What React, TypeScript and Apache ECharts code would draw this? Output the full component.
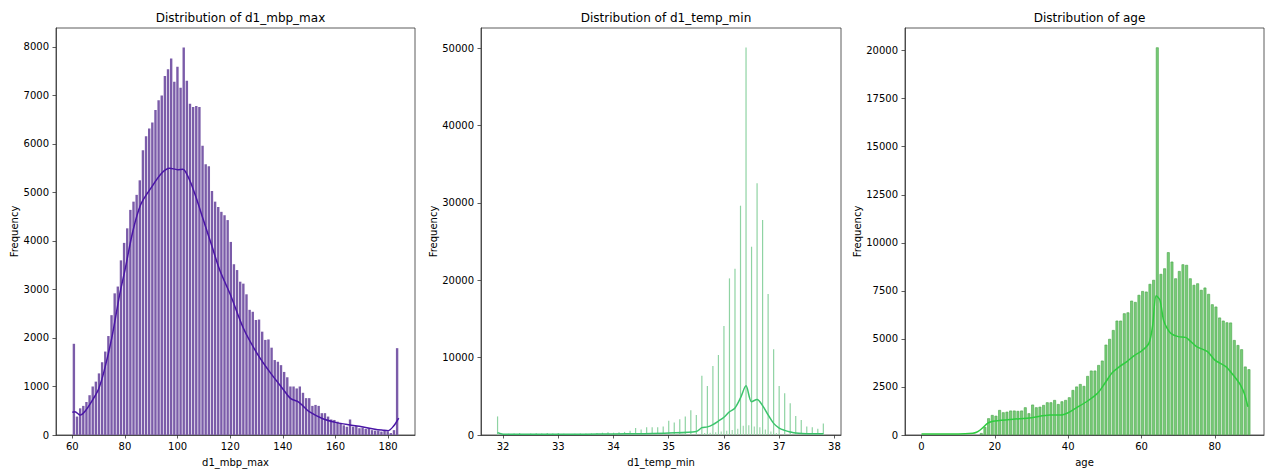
import React, { useEffect, useRef } from "react";
import * as echarts from "echarts";

// ---------- Panel 1: d1_mbp_max ----------
const mbpBinStart = 60;
const mbpBinEnd = 184;
const mbpCounts = [
  1880, 380, 550, 600, 680, 820, 1000, 1100, 1270, 1500,
  1720, 2040, 2470, 2920, 3060, 3600, 3960, 4260, 4640, 4810,
  4950, 5250, 5870, 6160, 6320, 6440, 6700, 6900, 7000, 7400,
  7540, 7760, 7280, 7590, 7160, 7990, 7300, 6830, 6760, 6780,
  6760, 5960, 5580, 5540, 5030, 4810, 4700, 4600, 4530, 4430,
  3980, 3520, 3400, 3160, 3120, 2900, 2580, 2540, 2370, 2380,
  2130, 1960, 1970, 1800, 1545, 1510, 1440, 1300, 1190, 1000,
  1000, 960, 1000, 870, 760, 760, 600, 620, 600, 450,
  450, 380, 320, 310, 275, 250, 200, 170, 320, 170,
  185, 140, 150, 125, 140, 100, 90, 90, 70, 85,
  75, 40, 100, 1790,
];
const mbpKdeX = [60, 61, 63, 65, 68, 70, 72, 75, 78, 80, 83, 86, 90, 94, 97, 100, 102, 103, 105, 107, 110, 113, 116, 120, 125, 130, 135, 140, 143, 146, 148, 150, 155, 160, 165, 170, 175, 178, 180, 182, 184];
const mbpKdeY = [470, 480, 410, 500, 750, 950, 1300, 2000, 2900, 3400, 4200, 4750, 5100, 5400, 5500, 5470, 5480, 5430, 5200, 4900, 4400, 3900, 3400, 2900, 2200, 1700, 1300, 950, 750, 680, 580, 480, 340, 260, 210, 170, 120, 100, 90, 180, 350];
const mbpTicksX = [60, 80, 100, 120, 140, 160, 180];
const mbpTicksY = [0, 1000, 2000, 3000, 4000, 5000, 6000, 7000, 8000];

// ---------- Panel 2: d1_temp_min ----------
const tempStart = 31.9;
const tempStep = 0.1;
const tempCounts = [
  2400, 100, 150, 200, 250, 120, 200, 220, 200, 250,
  200, 250, 150, 120, 150, 200, 180, 200, 250, 300,
  350, 300, 350, 400, 550, 900, 700, 1000, 1000, 1000,
  1100, 1850, 1600, 2050, 2400, 3200, 2600, 7660, 6330, 8910,
  10340, 14080, 20240, 21490, 29630, 50090, 24330, 32520, 27780, 18220,
  11070, 6330, 5380, 4090, 2450, 1940, 1100, 1000, 800, 1500,
];
const tempFineX = [35.65, 35.75, 35.85, 35.95, 36.05, 36.15, 36.25, 36.35, 36.45, 36.55, 36.65, 36.75, 36.85, 36.95];
const tempFineY = [250, 300, 350, 450, 550, 650, 800, 1200, 1250, 1100, 1000, 700, 450, 250];
const tempKdeX = [31.9, 32.0, 32.5, 33.0, 33.5, 34.0, 34.5, 35.0, 35.5, 35.6, 35.7, 35.8, 35.9, 36.0, 36.1, 36.2, 36.3, 36.4, 36.5, 36.6, 36.7, 36.8, 36.9, 37.0, 37.1, 37.2, 37.3, 37.5, 37.8];
const tempKdeY = [300, 100, 100, 100, 110, 130, 170, 250, 450, 950, 1050, 1350, 1800, 2300, 3000, 3500, 4800, 6350, 4300, 4600, 3800, 2600, 1500, 900, 600, 400, 250, 150, 150];
const tempTicksX = [32, 33, 34, 35, 36, 37, 38];
const tempTicksY = [0, 10000, 20000, 30000, 40000, 50000];

// ---------- Panel 3: age ----------
const ageStart = 16;
const ageCounts = [
  100, 420, 870, 1040, 1000, 1300, 1180, 1210, 1270, 1270,
  1250, 1270, 1440, 1130, 1580, 1440, 1470, 1560, 1700, 1700,
  1820, 1610, 1750, 1820, 1960, 2340, 2520, 2650, 2550, 3070,
  3350, 3350, 3640, 3870, 4700, 5000, 5460, 5950, 5950, 6330,
  6380, 6990, 6920, 7290, 7490, 7460, 7860, 8070, 20170, 8380,
  8670, 9510, 9020, 8150, 8530, 8880, 8850, 8150, 7810, 7890,
  7550, 7670, 7340, 6800, 6680, 6110, 5950, 5860, 5850, 4940,
  4680, 4460, 3560, 3420,
];
const ageKdeX = [0, 10, 14, 15, 16, 17, 18, 19, 20, 25, 30, 35, 38, 40, 42, 45, 48, 50, 52, 54, 56, 58, 60, 62, 63, 64, 65, 66, 67, 68, 70, 72, 73, 75, 78, 80, 83, 85, 87, 88, 89];
const ageKdeY = [50, 50, 90, 140, 260, 430, 610, 690, 730, 820, 900, 1040, 1040, 1160, 1390, 1730, 2170, 2690, 3240, 3560, 3820, 4130, 4370, 4770, 5640, 7250, 7030, 5980, 5550, 5290, 5120, 5080, 4940, 4600, 4340, 3900, 3560, 3120, 2600, 2170, 1470];
const ageTicksX = [0, 20, 40, 60, 80];
const ageTicksY = [0, 2500, 5000, 7500, 10000, 12500, 15000, 17500, 20000];

const titles = ["Distribution of d1_mbp_max", "Distribution of d1_temp_min", "Distribution of age"];
const xNames = ["d1_mbp_max", "d1_temp_min", "age"];

const FONT = "DejaVu Sans";

function buildOption() {
  const mbpW = (mbpBinEnd - mbpBinStart) / mbpCounts.length;
  const mbpBars = mbpCounts.map((c, i) => [mbpBinStart + (i + 0.5) * mbpW, c]);
  const tempBars = tempCounts.map((c, i) => [Number((tempStart + i * tempStep).toFixed(2)), c]);
  const tempFine = tempFineX.map((x, i) => [x, tempFineY[i]]);
  const ageBars = ageCounts.map((c, i) => [ageStart + i + 0.3, c]);
  const zip = (xs: number[], ys: number[]) => xs.map((x, i) => [x, ys[i]]);
  const plain = (v: number) => String(v);

  const grids = [
    { left: 56, top: 28, width: 359, height: 407 },
    { left: 481, top: 28, width: 360, height: 407 },
    { left: 905, top: 28, width: 359, height: 407 },
  ].map((g) => ({ ...g, show: true, borderColor: "#333", borderWidth: 0.8, backgroundColor: "transparent", containLabel: false }));

  const xr = [
    [53.8, 190.2, mbpTicksX],
    [31.6, 38.12, tempTicksX],
    [-4.5, 93.4, ageTicksX],
  ] as const;
  const yMaxes = [
    Math.max(...mbpCounts) * 1.05,
    Math.max(...tempCounts) * 1.05,
    Math.max(...ageCounts) * 1.05,
  ];
  const yTicks = [mbpTicksY, tempTicksY, ageTicksY];
  const yNameGaps = [32, 40, 41];

  const axisStyle = {
    axisLine: { show: true, onZero: false, lineStyle: { color: "#333", width: 0.8 } },
    splitLine: { show: false },
  };

  const xAxis = xr.map(([min, max, ticks], i) => ({
    type: "value",
    gridIndex: i,
    min,
    max,
    ...axisStyle,
    axisTick: { show: true, inside: false, length: 3.5, lineStyle: { color: "#333", width: 0.8 }, customValues: ticks as any },
    axisLabel: { customValues: ticks as any, formatter: plain, color: "#000", fontSize: 10, fontFamily: FONT, margin: 6 },
    name: xNames[i],
    nameLocation: "middle",
    nameGap: 22,
    nameTextStyle: { color: "#000", fontSize: 10, fontFamily: FONT },
  }));

  const yAxis = yMaxes.map((max, i) => ({
    type: "value",
    gridIndex: i,
    min: 0,
    max,
    ...axisStyle,
    axisTick: { show: true, inside: false, length: 3.5, lineStyle: { color: "#333", width: 0.8 }, customValues: yTicks[i] },
    axisLabel: { customValues: yTicks[i], formatter: plain, color: "#000", fontSize: 10, fontFamily: FONT, margin: 7 },
    name: "Frequency",
    nameLocation: "middle",
    nameGap: yNameGaps[i],
    nameTextStyle: { color: "#000", fontSize: 10, fontFamily: FONT },
  }));

  const title = titles.map((t, i) => ({
    text: t,
    left: [235.5, 661, 1084.5][i],
    top: 7,
    textAlign: "center",
    textStyle: { color: "#000", fontSize: 12, fontWeight: "normal", fontFamily: FONT },
  }));

  const noEmph = { emphasis: { disabled: true }, silent: true };

  const series: any[] = [
    {
      type: "bar", xAxisIndex: 0, yAxisIndex: 0, data: mbpBars, barWidth: 2.4,
      itemStyle: { color: "#7b5ca9" }, ...noEmph,
    },
    {
      type: "line", xAxisIndex: 0, yAxisIndex: 0, data: zip(mbpKdeX, mbpKdeY), smooth: 0.3,
      showSymbol: false, symbol: "none", lineStyle: { color: "#4a16a6", width: 1.5 }, z: 5, ...noEmph,
    },
    {
      type: "bar", xAxisIndex: 1, yAxisIndex: 1, data: tempBars, barWidth: 1.2, barGap: "-100%",
      itemStyle: { color: "#8fd3a3" }, ...noEmph,
    },
    {
      type: "bar", xAxisIndex: 1, yAxisIndex: 1, data: tempFine, barWidth: 1.2, barGap: "-100%",
      itemStyle: { color: "#9fd8ae" }, ...noEmph,
    },
    {
      type: "line", xAxisIndex: 1, yAxisIndex: 1, data: zip(tempKdeX, tempKdeY), smooth: 0.3,
      showSymbol: false, symbol: "none", lineStyle: { color: "#3cc46c", width: 1.5 }, z: 5, ...noEmph,
    },
    {
      type: "bar", xAxisIndex: 2, yAxisIndex: 2, data: ageBars, barWidth: 2.8,
      itemStyle: { color: "#78cc78", borderColor: "#47a447", borderWidth: 0.6 }, ...noEmph,
    },
    {
      type: "line", xAxisIndex: 2, yAxisIndex: 2, data: zip(ageKdeX, ageKdeY), smooth: 0.3,
      showSymbol: false, symbol: "none", lineStyle: { color: "#2fcc3f", width: 1.5 }, z: 5, ...noEmph,
    },
  ];

  return {
    animation: false,
    backgroundColor: "#fff",
    textStyle: { fontFamily: FONT },
    title,
    grid: grids,
    xAxis,
    yAxis,
    series,
  };
}

export default function App() {
  const ref = useRef<HTMLDivElement>(null);
  useEffect(() => {
    if (!ref.current) return;
    const chart = echarts.init(ref.current, null, { renderer: "svg" });
    chart.setOption(buildOption() as any);
    return () => chart.dispose();
  }, []);
  return (
    <div
      ref={ref}
      style={{ position: "fixed", left: 0, top: 0, width: 1265, height: 473, background: "#fff" }}
    />
  );
}
